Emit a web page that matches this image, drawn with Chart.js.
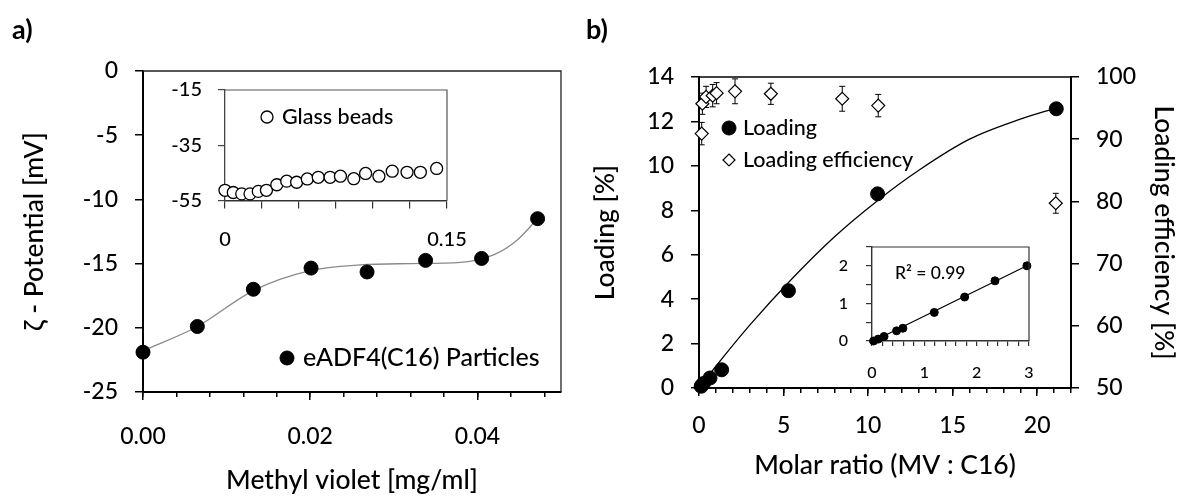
<!DOCTYPE html>
<html>
<head>
<meta charset="utf-8">
<script src="https://cdn.jsdelivr.net/npm/chart.js@4/dist/chart.umd.min.js"></script>
<style>
  body { margin: 0; background: #fff; width: 1181px; height: 499px; position: relative; overflow: hidden; }
  canvas { position: absolute; left: 0; top: 0; }
</style>
</head>
<body>
<canvas id="zetaMain" width="1181" height="499"></canvas>
<canvas id="zetaInset" width="1181" height="499"></canvas>
<canvas id="loadMain" width="1181" height="499"></canvas>
<canvas id="loadInset" width="1181" height="499"></canvas>
<script>
// a) zeta potential of eADF4(C16) particles vs methyl violet
const particleConc = [0, 0.0065, 0.0132, 0.0201, 0.0268, 0.0338, 0.0405, 0.0472];
const particleZeta = [-21.9, -19.9, -17.0, -15.35, -15.65, -14.75, -14.6, -11.5];
const particleFitConc = [0, 0.0065, 0.0132, 0.02, 0.026, 0.032, 0.038, 0.042, 0.0447, 0.0472];
const particleFitZeta = [-21.8, -19.9, -17.1, -15.55, -15.1, -15.0, -14.9, -14.3, -13.2, -11.5];

// a) inset: glass beads
const beadConc = [0, 0.0056, 0.0113, 0.0169, 0.0225, 0.028, 0.035, 0.0417, 0.0484, 0.0556,
                  0.063, 0.071, 0.078, 0.087, 0.095, 0.104, 0.113, 0.123, 0.132, 0.143];
const beadZeta = [-51.3, -52.1, -52.6, -52.6, -51.7, -51.3, -49.3, -48.0, -48.4, -47.2,
                  -46.6, -46.6, -46.2, -47.1, -45.2, -46.2, -44.4, -44.8, -44.8, -43.4];

// b) loading and loading efficiency vs molar ratio
const molarRatio = [0.13, 0.26, 0.65, 1.34, 5.29, 10.56, 21.13];
const loading = [0.08, 0.2, 0.45, 0.82, 4.38, 8.74, 12.57];
const loadFitRatio = [0, 1, 3, 5.5, 8, 10.5, 13, 16, 19, 21.1];
const loadFitValue = [0, 0.98, 2.83, 4.92, 6.8, 8.4, 9.8, 11.2, 12.1, 12.6];
const effRatio = [0.16, 0.2, 0.42, 0.81, 1.04, 2.13, 4.25, 8.47, 10.6, 21.1];
const efficiency = [90.9, 95.7, 96.8, 97.0, 97.4, 97.7, 97.3, 96.5, 95.4, 79.7];
const effError = [1.8, 1.7, 1.7, 1.8, 1.7, 2.0, 1.7, 2.0, 1.8, 1.6];

// b) inset: low ratio range
const lowRatio = [0.03, 0.12, 0.23, 0.47, 0.59, 1.19, 1.77, 2.35, 2.96];
const lowLoading = [0.0, 0.05, 0.12, 0.27, 0.34, 0.76, 1.17, 1.60, 2.0];
const lowFitRatio = [0.03, 2.96];
const lowFitLoading = [0.0, 2.0];

// ticks
const zetaTicks = [-25, -20, -15, -10, -5, 0];
const concMajor = [0, 0.02, 0.04];
const concMajorLabels = ['0.00', '0.02', '0.04'];
const concMinor = [0, 0.004, 0.008, 0.012, 0.016, 0.02, 0.024, 0.028, 0.032, 0.036, 0.04, 0.044, 0.048];
const beadTicksX = [0, 0.025, 0.05, 0.075, 0.1, 0.125, 0.15];
const beadLabelsX = ['0', '', '', '', '', '', '0.15'];
const beadTicksY = [-55, -35, -15];
const ratioMajor = [0, 5, 10, 15, 20];
const ratioMinor = [0, 1, 2, 3, 4, 5, 6, 7, 8, 9, 10, 11, 12, 13, 14, 15, 16, 17, 18, 19, 20, 21, 22];
const loadTicks = [0, 2, 4, 6, 8, 10, 12, 14];
const effTicks = [50, 60, 70, 80, 90, 100];
const lowTicksX = [0, 0.2, 0.4, 0.6, 0.8, 1, 1.2, 1.4, 1.6, 1.8, 2, 2.2, 2.4, 2.6, 2.8, 3];
const lowLabelsX = ['0', '', '', '', '', '1', '', '', '', '', '2', '', '', '', '', '3'];
const lowTicksY = [0, 0.5, 1, 1.5, 2, 2.5];
const lowLabelsY = ['0', '', '1', '', '2', ''];

Chart.defaults.font.family = 'Lato';
Chart.defaults.font.weight = '500';
Chart.defaults.color = '#000';

const toPts = (xs, ys) => xs.map((x, i) => ({ x: x, y: ys[i] }));

function axis(o) {
  const horizontal = o.pos === 'bottom';
  return {
    type: 'linear',
    position: o.pos,
    min: o.min,
    max: o.max,
    weight: o.weight === undefined ? 1 : o.weight,
    afterBuildTicks: s => { s.ticks = o.ticks.map(v => ({ value: v })); },
    afterFit: s => { if (horizontal) s.height = o.size; else s.width = o.size; },
    ticks: {
      display: !!o.labels,
      autoSkip: false,
      maxRotation: 0,
      minRotation: 0,
      padding: o.pad || 0,
      font: { size: o.fontSize || 23 },
      color: '#000',
      callback: (v, i) => (o.labels ? o.labels[i] : '')
    },
    grid: { drawOnChartArea: false, tickLength: o.tick, color: o.color || '#000', lineWidth: o.tickWidth || 1.5 },
    border: { display: o.border !== false, color: o.color || '#000', width: o.lineWidth || 2 },
    title: o.title
      ? { display: true, text: o.title, font: { size: 26.5 }, color: '#000', padding: o.titlePad }
      : { display: false }
  };
}

// top/right box lines around a plot area
const framePlugin = {
  id: 'frame',
  afterDraw(chart, args, opts) {
    const { left, top, right, bottom } = chart.chartArea;
    const ctx = chart.ctx;
    ctx.save();
    ctx.strokeStyle = opts.color;
    ctx.lineWidth = opts.width;
    ctx.beginPath();
    ctx.moveTo(left, top);
    ctx.lineTo(right, top);
    if (opts.right) ctx.lineTo(right, bottom);
    ctx.stroke();
    ctx.restore();
  }
};

// vertical error bars from dataset.yErr
const errorBarPlugin = {
  id: 'errorBars',
  beforeDatasetsDraw(chart) {
    const ctx = chart.ctx;
    chart.data.datasets.forEach(ds => {
      if (!ds.yErr) return;
      const xs = chart.scales[ds.xAxisID || 'x'];
      const ys = chart.scales[ds.yAxisID || 'y'];
      ctx.save();
      ctx.strokeStyle = '#000';
      ctx.lineWidth = 1;
      ds.data.forEach((p, i) => {
        const px = xs.getPixelForValue(p.x);
        const hi = ys.getPixelForValue(p.y + ds.yErr[i]);
        const lo = ys.getPixelForValue(p.y - ds.yErr[i]);
        ctx.beginPath();
        ctx.moveTo(px, hi); ctx.lineTo(px, lo);
        ctx.moveTo(px - 3, hi); ctx.lineTo(px + 3, hi);
        ctx.moveTo(px - 3, lo); ctx.lineTo(px + 3, lo);
        ctx.stroke();
      });
      ctx.restore();
    });
  }
};

function drawMarker(ctx, m, x, y) {
  ctx.save();
  ctx.lineWidth = m.lineWidth || 1.2;
  ctx.strokeStyle = '#000';
  ctx.fillStyle = m.fill;
  ctx.beginPath();
  if (m.style === 'diamond') {
    ctx.moveTo(x, y - m.r); ctx.lineTo(x + m.r, y); ctx.lineTo(x, y + m.r); ctx.lineTo(x - m.r, y);
    ctx.closePath();
  } else {
    ctx.arc(x, y, m.r, 0, Math.PI * 2);
  }
  ctx.fill();
  ctx.stroke();
  ctx.restore();
}

// legend entries, panel letters and free text
const notesPlugin = {
  id: 'notes',
  afterDraw(chart, args, opts) {
    const ctx = chart.ctx;
    (opts.items || []).forEach(it => {
      if (it.marker) drawMarker(ctx, it.marker, it.x, it.y);
      ctx.save();
      ctx.font = it.font;
      ctx.fillStyle = '#000';
      ctx.textBaseline = 'middle';
      ctx.textAlign = 'left';
      ctx.fillText(it.text, it.x + (it.gap || 0), it.y);
      ctx.restore();
    });
  }
};

const base = {
  responsive: false,
  animation: false,
  events: []
};

function drawAll() {
  // ---- a) main ----
  new Chart(document.getElementById('zetaMain'), {
    type: 'scatter',
    data: {
      datasets: [
        {
          label: 'eADF4(C16) Particles',
          data: toPts(particleConc, particleZeta),
          pointRadius: 7, pointBackgroundColor: '#000', pointBorderColor: '#000', pointBorderWidth: 1,
          clip: false, order: 1
        },
        {
          label: 'fit',
          data: toPts(particleFitConc, particleFitZeta),
          showLine: true, pointRadius: 0, borderColor: '#8a8a8a', borderWidth: 1.3,
          cubicInterpolationMode: 'monotone', order: 2
        }
      ]
    },
    options: Object.assign({}, base, {
      layout: { padding: { left: 0, right: 620, top: 71, bottom: 0 } },
      plugins: {
        legend: { display: false },
        tooltip: { enabled: false },
        frame: { color: '#222', width: 1.3, right: true },
        notes: {
          items: [
            { text: 'a)', x: 12, y: 30, font: 'bold 27px Lato' },
            { text: 'eADF4(C16) Particles', x: 287, y: 358, gap: 16, font: '500 25px Lato',
              marker: { style: 'circle', r: 7, fill: '#000', lineWidth: 1 } }
          ]
        }
      },
      scales: {
        xMinor: axis({ pos: 'bottom', min: 0, max: 0.05, ticks: concMinor, tick: 5, size: 0, weight: 0, border: false }),
        x: axis({ pos: 'bottom', min: 0, max: 0.05, ticks: concMajor, labels: concMajorLabels, tick: 8, pad: 22.8,
                  size: 107, title: 'Methyl violet [mg/ml]', titlePad: { top: 0, bottom: 2.4 } }),
        y: axis({ pos: 'left', min: -25, max: 0, ticks: zetaTicks, labels: zetaTicks.map(String), tick: 8, pad: 17,
                  size: 143, title: 'ζ - Potential [mV]', titlePad: { top: 18.1, bottom: 0 } })
      }
    }),
    plugins: [framePlugin, notesPlugin]
  });

  // ---- a) inset ----
  new Chart(document.getElementById('zetaInset'), {
    type: 'scatter',
    data: {
      datasets: [{
        label: 'Glass beads',
        data: toPts(beadConc, beadZeta),
        pointRadius: 6, pointBackgroundColor: '#fff', pointBorderColor: '#000', pointBorderWidth: 1.3,
        clip: false
      }]
    },
    options: Object.assign({}, base, {
      layout: { padding: { left: 165, right: 734, top: 90, bottom: 238.5 } },
      plugins: {
        legend: { display: false },
        tooltip: { enabled: false },
        frame: { color: '#555', width: 1.2, right: true },
        notes: {
          items: [
            { text: 'Glass beads', x: 267, y: 117, gap: 15, font: '500 21.5px Lato',
              marker: { style: 'circle', r: 6, fill: '#fff', lineWidth: 1.3 } }
          ]
        }
      },
      scales: {
        x: axis({ pos: 'bottom', min: 0, max: 0.15, ticks: beadTicksX, labels: beadLabelsX, tick: 8, pad: 18.9,
                  size: 60, fontSize: 20, color: '#333', lineWidth: 1.5, tickWidth: 1.2 }),
        y: axis({ pos: 'left', min: -55, max: -15, ticks: beadTicksY, labels: beadTicksY.map(String), tick: 7, pad: 16,
                  size: 60, fontSize: 20, color: '#444', lineWidth: 1.3, tickWidth: 1.2 })
      }
    }),
    plugins: [framePlugin, notesPlugin]
  });

  // ---- b) main ----
  new Chart(document.getElementById('loadMain'), {
    type: 'scatter',
    data: {
      datasets: [
        {
          label: 'Loading',
          data: toPts(molarRatio, loading),
          pointRadius: 7, pointBackgroundColor: '#000', pointBorderColor: '#000', pointBorderWidth: 1,
          clip: false, order: 1
        },
        {
          label: 'Loading efficiency',
          data: toPts(effRatio, efficiency),
          yAxisID: 'y2',
          yErr: effError,
          pointStyle: 'rectRot', pointRadius: 6.5,
          pointBackgroundColor: '#fff', pointBorderColor: '#000', pointBorderWidth: 1.2,
          clip: false, order: 0
        },
        {
          label: 'fit',
          data: toPts(loadFitRatio, loadFitValue),
          showLine: true, pointRadius: 0, borderColor: '#000', borderWidth: 1.3,
          cubicInterpolationMode: 'monotone', order: 2
        }
      ]
    },
    options: Object.assign({}, base, {
      layout: { padding: { left: 580, right: 0, top: 77, bottom: 0 } },
      plugins: {
        legend: { display: false },
        tooltip: { enabled: false },
        frame: { color: '#000', width: 1.4, right: false },
        notes: {
          items: [
            { text: 'b)', x: 586, y: 30, font: 'bold 27px Lato' },
            { text: 'Loading', x: 729, y: 128, gap: 14, font: '500 21.5px Lato',
              marker: { style: 'circle', r: 7, fill: '#000', lineWidth: 1 } },
            { text: 'Loading efficiency', x: 729, y: 160, gap: 14, font: '500 21.5px Lato',
              marker: { style: 'diamond', r: 6, fill: '#fff', lineWidth: 1.2 } }
          ]
        }
      },
      scales: {
        xMinor: axis({ pos: 'bottom', min: 0, max: 22, ticks: ratioMinor, tick: 5, size: 0, weight: 0, border: false }),
        x: axis({ pos: 'bottom', min: 0, max: 22, ticks: ratioMajor, labels: ratioMajor.map(String), tick: 8, pad: 16,
                  size: 111, title: 'Molar ratio (MV : C16)', titlePad: { top: 0, bottom: 17.4 } }),
        y: axis({ pos: 'left', min: 0, max: 14, ticks: loadTicks, labels: loadTicks.map(String), tick: 8, pad: 17,
                  size: 119, title: 'Loading [%]', titlePad: { top: 9.6, bottom: 0 } }),
        y2: axis({ pos: 'right', min: 50, max: 100, ticks: effTicks, labels: effTicks.map(String), tick: 8, pad: 17,
                   size: 110, title: 'Loading efficiency [%]', titlePad: { top: 1.1, bottom: 0 } })
      }
    }),
    plugins: [framePlugin, errorBarPlugin, notesPlugin]
  });

  // ---- b) inset ----
  new Chart(document.getElementById('loadInset'), {
    type: 'scatter',
    data: {
      datasets: [
        {
          label: 'low ratio',
          data: toPts(lowRatio, lowLoading),
          pointRadius: 4, pointBackgroundColor: '#000', pointBorderColor: '#000', pointBorderWidth: 1,
          clip: false, order: 1
        },
        {
          label: 'fit',
          data: toPts(lowFitRatio, lowFitLoading),
          showLine: true, pointRadius: 0, borderColor: '#000', borderWidth: 1.2, order: 2
        }
      ]
    },
    options: Object.assign({}, base, {
      layout: { padding: { left: 822, right: 152, top: 247, bottom: 108 } },
      plugins: {
        legend: { display: false },
        tooltip: { enabled: false },
        frame: { color: '#333', width: 1.2, right: true },
        notes: {
          items: [
            { text: 'R² = 0.99', x: 895, y: 273, font: '500 17.5px Lato' }
          ]
        }
      },
      scales: {
        x: axis({ pos: 'bottom', min: 0, max: 3, ticks: lowTicksX, labels: lowLabelsX, tick: 5, pad: 16.8,
                  size: 50, fontSize: 16, color: '#333', lineWidth: 1.4, tickWidth: 1.2 }),
        y: axis({ pos: 'left', min: 0, max: 2.5, ticks: lowTicksY, labels: lowLabelsY, tick: 6, pad: 18,
                  size: 50, fontSize: 16, color: '#333', lineWidth: 1.4, tickWidth: 1.2 })
      }
    }),
    plugins: [framePlugin, notesPlugin]
  });
}

Promise.all([
  document.fonts.load('500 22px Lato'),
  document.fonts.load('bold 22px Lato')
]).then(drawAll, drawAll);
</script>
</body>
</html>
